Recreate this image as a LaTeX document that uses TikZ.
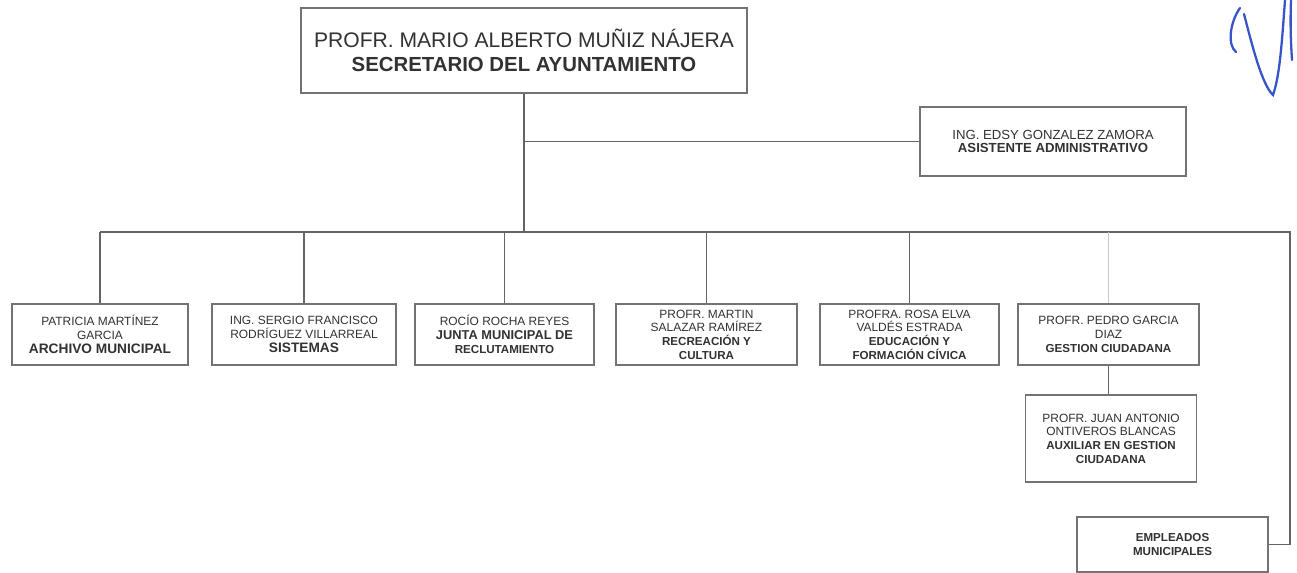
\documentclass[tikz,border=0pt]{standalone}
\usepackage{fontspec}
\setmainfont{Liberation Sans}
\usetikzlibrary{positioning, calc}
\definecolor{linegray}{RGB}{100,100,100}
\definecolor{boxgray}{RGB}{115,115,115}
\definecolor{textgray}{RGB}{50,50,50}
\definecolor{signblue}{RGB}{55,85,200}
\newcommand{\rolefont}{\bfseries\fontsize{7.3}{7.8}\selectfont}

\begin{document}
\begin{tikzpicture}[
    x=0.02cm, y=-0.02cm,
    unit/.style={rectangle, draw=boxgray, line width=0.9pt, fill=white, align=center, text=textgray, inner sep=1pt, font=\fontsize{6.8}{7.8}\selectfont},
    rowunit/.style={unit, minimum height=1.22cm},
    link/.style={draw=linegray, line width=0.9pt},
    sign/.style={draw=signblue, line width=1.3pt, line cap=round}
]
\useasboundingbox (0,0) rectangle (1297,573);

% Head
\node[unit, minimum width=8.92cm, minimum height=1.7cm, font=\fontsize{12}{13.7}\selectfont] (secretario) at (524, 50.5)
    {PROFR. MARIO ALBERTO MUÑIZ NÁJERA\\{\bfseries\fontsize{11.6}{13.7}\selectfont SECRETARIO DEL AYUNTAMIENTO}};

% Assistant
\node[unit, minimum width=5.32cm, minimum height=1.38cm, font=\fontsize{7.5}{7.4}\selectfont] (asistente) at (1053, 141.5)
    {ING. EDSY GONZALEZ ZAMORA\\\textbf{ASISTENTE ADMINISTRATIVO}};

% Departments
\node[rowunit, minimum width=3.52cm] (archivo) at (100, 334.5)
    {PATRICIA MARTÍNEZ\\GARCIA\\{\rolefont\fontsize{7.8}{7.8}\selectfont ARCHIVO MUNICIPAL}};
\node[rowunit, minimum width=3.68cm] (sistemas) at (304, 334.5)
    {ING. SERGIO FRANCISCO\\RODRÍGUEZ VILLARREAL\\{\rolefont\fontsize{7.8}{7.8}\selectfont SISTEMAS}};
\node[rowunit, minimum width=3.58cm] (junta) at (504.5, 334.5)
    {ROCÍO ROCHA REYES\\{\rolefont JUNTA MUNICIPAL DE}\\{\rolefont\fontsize{6.6}{7.8}\selectfont RECLUTAMIENTO}};
\node[rowunit, minimum width=3.62cm] (recreacion) at (706.5, 334.5)
    {PROFR. MARTIN\\SALAZAR RAMÍREZ\\{\rolefont\fontsize{6.6}{7.8}\selectfont RECREACIÓN Y}\\{\rolefont\fontsize{6.6}{7.8}\selectfont CULTURA}};
\node[rowunit, minimum width=3.58cm] (educacion) at (909.5, 334.5)
    {PROFRA. ROSA ELVA\\VALDÉS ESTRADA\\{\rolefont\fontsize{6.6}{7.8}\selectfont EDUCACIÓN Y}\\{\rolefont\fontsize{6.6}{7.8}\selectfont FORMACIÓN CÍVICA}};
\node[rowunit, minimum width=3.62cm] (gestion) at (1108.5, 334.5)
    {PROFR. PEDRO GARCIA\\DIAZ\\{\rolefont\fontsize{6.6}{7.8}\selectfont GESTION CIUDADANA}};

% Lower units
\node[unit, minimum width=3.42cm, minimum height=1.74cm] (juan) at (1111, 438.5)
    {PROFR. JUAN ANTONIO\\ONTIVEROS BLANCAS\\{\rolefont\fontsize{6.6}{7.8}\selectfont AUXILIAR EN GESTION}\\{\rolefont\fontsize{6.6}{7.8}\selectfont CIUDADANA}};
\node[unit, minimum width=3.82cm, minimum height=1.1cm] (empleados) at (1172.5, 544.5)
    {{\rolefont\fontsize{6.6}{7.8}\selectfont EMPLEADOS}\\{\rolefont\fontsize{6.6}{7.8}\selectfont MUNICIPALES}};

% Connectors
\coordinate (bus) at (0, 232);
\coordinate (corner) at (1290, 232);
\draw[link] (secretario.south) -- (secretario.south |- bus);
\draw[link] (secretario.south |- asistente.west) -- (asistente.west);
\draw[link] (archivo.north |- bus) -- (corner) |- (empleados.east);
\foreach \dept in {archivo, sistemas, junta, recreacion, educacion}
    \draw[link] (\dept.north) -- (\dept.north |- bus);
\draw[link, draw=linegray!35] (gestion.north) -- (gestion.north |- bus);
\draw[link] (gestion.south) -- (gestion.south |- juan.north);

% Signature
\draw[sign] (1240, 8) .. controls (1230, 22) and (1227, 45) .. (1236, 52);
\draw[sign] (1244, 14) .. controls (1252, 45) and (1262, 85) .. (1273, 95)
    .. controls (1280, 75) and (1282, 40) .. (1285, 0);
\draw[sign] (1291, 0) .. controls (1290, 25) and (1291, 45) .. (1292, 60);

\end{tikzpicture}
\end{document}
